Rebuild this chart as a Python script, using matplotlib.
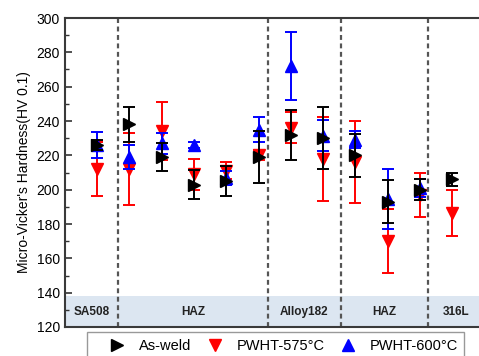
import numpy as np
import matplotlib
matplotlib.use("Agg")
import matplotlib.pyplot as plt
from matplotlib.lines import Line2D
from matplotlib.patches import Rectangle

plt.rcParams['font.family'] = ['Liberation Sans', 'DejaVu Sans']

positions = [1, 2, 3, 4, 5, 6, 7, 8, 9, 10, 11, 12]
asweld = [226, 238, 219, 203, 205, 219, 232, 230, 220, 193, 200, 206]
asweld_err = [3, 10, 8, 8.5, 8.5, 15, 14.5, 18, 12.5, 12.5, 6, 4]
pwht575 = [212, 212, 234, 209, 211, 220, 236, 218, 216, 170, 197, 186.5]
pwht575_err = [15.5, 21, 17, 9, 5, 3, 9, 24.5, 24, 18.5, 13, 13.5]
pwht600 = [226, 219, 227, 226, 207, 235, 272, 231.5, 229, 194.5, 201, np.nan]
pwht600_err = [7.5, 7, 6, 2, 4, 7.5, 20, 9, 5, 17.5, 5, np.nan]

dividers = [1.65, 6.3, 8.55, 11.25]
region_labels = ['SA508', 'HAZ', 'Alloy182', 'HAZ', '316L']
region_centers = [0.83, 3.97, 7.42, 9.9, 12.12]

W, H = 479, 356
fig = plt.figure(figsize=(W / 100, H / 100), dpi=100)
ax = fig.add_axes([64.7 / W, 29 / H, (484.6 - 64.7) / W, (327 - 18) / H])

ax.set_xlim(0, 13)
ax.set_ylim(120, 300)

# shaded band
ax.axhspan(120, 138, color='#DCE6F1', zorder=0, lw=0)
for xc, lab in zip(region_centers, region_labels):
    ax.text(xc, 128.5, lab, ha='center', va='center', fontsize=8.5,
            fontweight='bold', color='#222222')

for d in dividers:
    ax.axvline(d, color='#555555', lw=1.6, linestyle=(0, (2.2, 1.6)), zorder=1)

ekw = dict(linestyle='none', markersize=8, capsize=4.5, elinewidth=1.4,
           capthick=1.4)
ax.errorbar(positions, pwht575, yerr=pwht575_err, marker='v', color='#FF0000',
            zorder=3, **ekw)
ax.errorbar(positions, pwht600, yerr=pwht600_err, marker='^', color='#0000FF',
            zorder=4, **ekw)
ax.errorbar(positions, asweld, yerr=asweld_err, marker='>', color='black',
            zorder=5, **ekw)

ax.set_yticks(np.arange(120, 301, 20))
ax.set_yticks(np.arange(120, 301, 10), minor=True)
ax.set_xticks([])
ax.tick_params(axis='y', which='major', direction='in', length=5, width=1.2,
               labelsize=10, color='#333333')
ax.tick_params(axis='y', which='minor', direction='in', length=3, width=1.0,
               color='#333333')
for s in ax.spines.values():
    s.set_color('#3a3a3a')
    s.set_linewidth(1.5)

ax.set_ylabel("Micro-Vicker's Hardness(HV 0.1)", fontsize=10, labelpad=4)

# legend box
rect = Rectangle((87 / W, (H - 362) / H), (464 - 87) / W, 30 / H,
                 transform=fig.transFigure, fill=False, edgecolor='#999999',
                 lw=1.0, clip_on=False)
fig.patches.append(rect)

handles = [Line2D([], [], linestyle='none', marker='>', color='black', markersize=8),
           Line2D([], [], linestyle='none', marker='v', color='#FF0000', markersize=8),
           Line2D([], [], linestyle='none', marker='^', color='#0000FF', markersize=8)]
labels = ['As-weld', 'PWHT-575°C', 'PWHT-600°C']
fig.legend(handles, labels, loc='center left',
           bbox_to_anchor=(110 / W, (H - 345.7) / H), ncol=3, frameon=False,
           fontsize=10.5, handlelength=1.0, handletextpad=1.0,
           columnspacing=1.1, borderaxespad=0, borderpad=0)

fig.savefig('out.png', dpi=100)
